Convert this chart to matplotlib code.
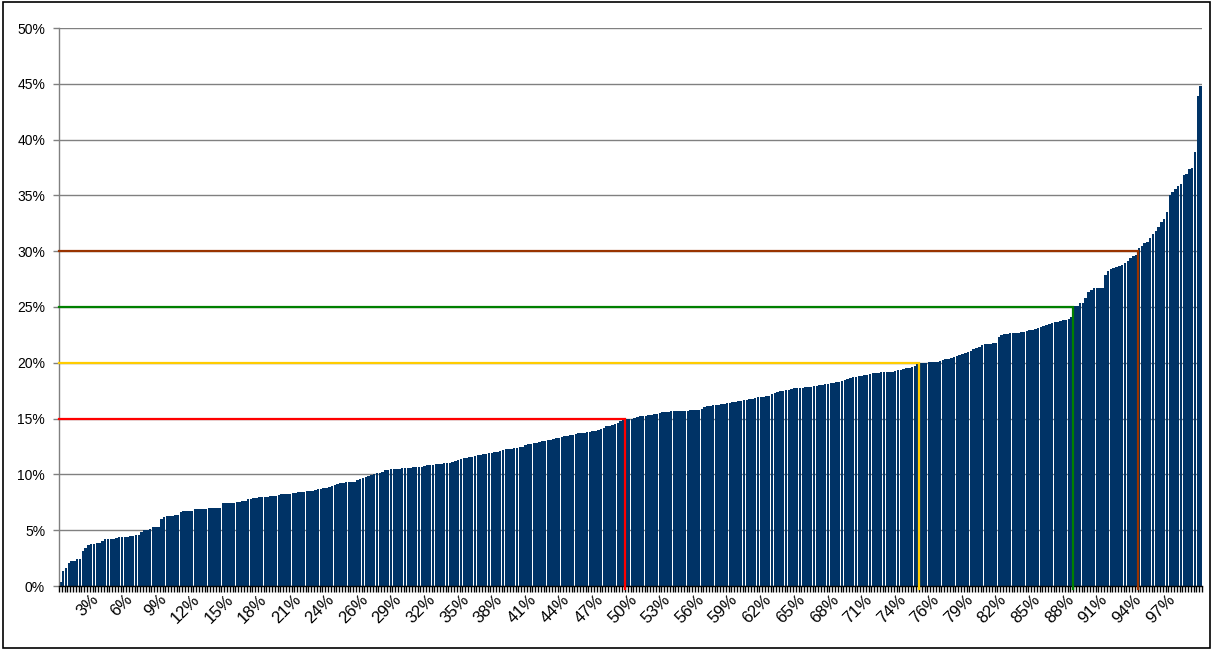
import numpy as np
import matplotlib
matplotlib.use("Agg")
import matplotlib.pyplot as plt
from matplotlib.ticker import FuncFormatter
from matplotlib.patches import Rectangle

plt.rcParams['font.family'] = ['Liberation Sans', 'DejaVu Sans']

# sorted values (percent), one per bar
pct_values = [
    0.4, 1.3, 1.6, 2.1, 2.2, 2.2, 2.4, 2.4, 3.1, 3.4,
    3.7, 3.8, 3.8, 3.85, 3.85, 4.0, 4.2, 4.2, 4.2, 4.2,
    4.3, 4.4, 4.4, 4.4, 4.4, 4.45, 4.45, 4.6, 4.6, 4.8,
    5.0, 5.0, 5.1, 5.3, 5.3, 5.3, 6.0, 6.2, 6.25, 6.25,
    6.25, 6.4, 6.4, 6.6, 6.7, 6.7, 6.7, 6.7, 6.9, 6.9,
    6.9, 6.9, 6.9, 7.0, 7.0, 7.0, 7.0, 7.0, 7.45, 7.45,
    7.45, 7.45, 7.45, 7.5, 7.5, 7.6, 7.6, 7.8, 7.8, 7.9,
    7.9, 7.95, 8.0, 8.0, 8.0, 8.05, 8.1, 8.1, 8.15, 8.2,
    8.2, 8.2, 8.25, 8.3, 8.35, 8.4, 8.4, 8.45, 8.5, 8.5,
    8.55, 8.6, 8.65, 8.7, 8.75, 8.8, 8.9, 8.95, 9.05, 9.15,
    9.2, 9.25, 9.3, 9.3, 9.3, 9.35, 9.5, 9.6, 9.7, 9.8,
    9.85, 9.95, 10.0, 10.1, 10.15, 10.25, 10.35, 10.4, 10.45, 10.45,
    10.5, 10.5, 10.55, 10.55, 10.6, 10.6, 10.65, 10.65, 10.7, 10.7,
    10.75, 10.8, 10.8, 10.85, 10.9, 10.9, 10.95, 11.0, 11.0, 11.05,
    11.1, 11.2, 11.3, 11.4, 11.45, 11.5, 11.55, 11.6, 11.65, 11.7,
    11.75, 11.8, 11.85, 11.9, 11.95, 12.0, 12.05, 12.1, 12.2, 12.25,
    12.3, 12.3, 12.35, 12.4, 12.45, 12.5, 12.6, 12.7, 12.75, 12.8,
    12.85, 12.9, 12.95, 13.0, 13.05, 13.1, 13.2, 13.25, 13.3, 13.35,
    13.4, 13.45, 13.5, 13.55, 13.6, 13.7, 13.75, 13.75, 13.8, 13.8,
    13.85, 13.9, 14.0, 14.1, 14.2, 14.3, 14.35, 14.45, 14.5, 14.6,
    14.75, 14.9, 15.0, 15.0, 15.0, 15.05, 15.1, 15.2, 15.2, 15.25,
    15.3, 15.35, 15.4, 15.45, 15.5, 15.55, 15.55, 15.6, 15.65, 15.7,
    15.7, 15.7, 15.7, 15.7, 15.7, 15.75, 15.75, 15.8, 15.8, 15.85,
    16.0, 16.1, 16.15, 16.2, 16.2, 16.25, 16.3, 16.35, 16.4, 16.4,
    16.45, 16.5, 16.55, 16.6, 16.65, 16.7, 16.75, 16.8, 16.85, 16.9,
    16.9, 16.95, 17.0, 17.05, 17.2, 17.3, 17.4, 17.45, 17.5, 17.55,
    17.6, 17.65, 17.7, 17.7, 17.75, 17.75, 17.8, 17.8, 17.85, 17.9,
    17.95, 18.0, 18.05, 18.1, 18.1, 18.15, 18.2, 18.25, 18.3, 18.35,
    18.45, 18.55, 18.65, 18.7, 18.75, 18.8, 18.85, 18.9, 18.95, 19.0,
    19.05, 19.1, 19.1, 19.15, 19.2, 19.2, 19.2, 19.2, 19.3, 19.35,
    19.35, 19.4, 19.5, 19.55, 19.65, 19.75, 19.85, 20.0, 20.0, 20.0,
    20.05, 20.05, 20.1, 20.1, 20.15, 20.25, 20.3, 20.35, 20.4, 20.5,
    20.6, 20.7, 20.8, 20.9, 21.0, 21.1, 21.2, 21.3, 21.45, 21.6,
    21.65, 21.7, 21.7, 21.75, 21.75, 22.3, 22.45, 22.55, 22.6, 22.65,
    22.65, 22.7, 22.7, 22.75, 22.8, 22.85, 22.9, 22.95, 23.0, 23.1,
    23.2, 23.3, 23.4, 23.5, 23.6, 23.65, 23.7, 23.75, 23.8, 23.85,
    23.9, 24.1, 25.1, 25.1, 25.4, 25.4, 25.8, 26.3, 26.5, 26.7,
    26.7, 26.7, 26.7, 27.9, 28.2, 28.4, 28.5, 28.6, 28.7, 28.8,
    28.9, 29.1, 29.4, 29.6, 29.7, 30.3, 30.5, 30.7, 30.8, 31.2,
    31.5, 31.8, 32.2, 32.6, 32.9, 33.5, 35.0, 35.3, 35.6, 35.8,
    36.0, 36.8, 36.9, 37.4, 37.5, 38.9, 43.9, 44.8,
]

# x tick labels (percentile), one every 12 bars
x_tick_labels = ['3%', '6%', '9%', '12%', '15%', '18%', '21%', '24%', '26%',
                 '29%', '32%', '35%', '38%', '41%', '44%', '47%', '50%', '53%',
                 '56%', '59%', '62%', '65%', '68%', '71%', '74%', '76%', '79%',
                 '82%', '85%', '88%', '91%', '94%', '97%']

# threshold reference lines
thresholds = [15, 20, 25, 30]
threshold_colors = ['#FF0000', '#FFCC00', '#008000', '#993300']

vals = np.array(pct_values)
n = len(vals)
x = np.arange(n)

W, H = 1214, 652
fig = plt.figure(figsize=(W / 100, H / 100), dpi=100)
ax = fig.add_axes([59 / W, 1 - 586 / H, (1202 - 59) / W, (586 - 28) / H])

ax.bar(x, vals, width=0.9, color='#003366', linewidth=0, zorder=2)

ax.set_xlim(-0.5, n - 0.5)
ax.set_ylim(0, 50)
ax.set_yticks(np.arange(0, 51, 5))
ax.yaxis.set_major_formatter(FuncFormatter(lambda v, p: f"{int(v)}%"))
ax.grid(axis='y', color='#808080', linewidth=1.0, zorder=1)
ax.set_axisbelow(True)

for sp in ['top', 'right']:
    ax.spines[sp].set_visible(False)
ax.spines['left'].set_color('#808080')
ax.spines['left'].set_linewidth(1.0)
ax.spines['bottom'].set_color('black')
ax.spines['bottom'].set_linewidth(1.0)

ax.tick_params(axis='y', length=4, width=1, color='#808080', pad=6,
               labelsize=10, direction='out')

step = 12
tick_pos = [step * (j + 1) - 1 for j in range(len(x_tick_labels))]
ax.set_xticks(tick_pos)
ax.set_xticklabels(x_tick_labels, rotation=45, ha='right', va='top',
                   rotation_mode='anchor', fontsize=12)
ax.tick_params(axis='x', which='major', length=0, pad=4)
ax.set_xticks(np.arange(-0.5, n, 1), minor=True)
ax.tick_params(axis='x', which='minor', length=4, width=1, color='black',
               direction='out')

for t, c in zip(thresholds, threshold_colors):
    idx = int(np.argmax(vals >= t))
    xv = idx - 0.5
    ax.plot([-0.5, xv, xv], [t, t, -0.3], color=c, linewidth=1.6,
            solid_joinstyle='miter', zorder=4, clip_on=False)

fig.patches.append(Rectangle((3 / W, 1 - 648 / H), (1210 - 3) / W, (648 - 2) / H,
                             transform=fig.transFigure, fill=False,
                             edgecolor='black', linewidth=1.2))

fig.savefig('out.png', dpi=100)
